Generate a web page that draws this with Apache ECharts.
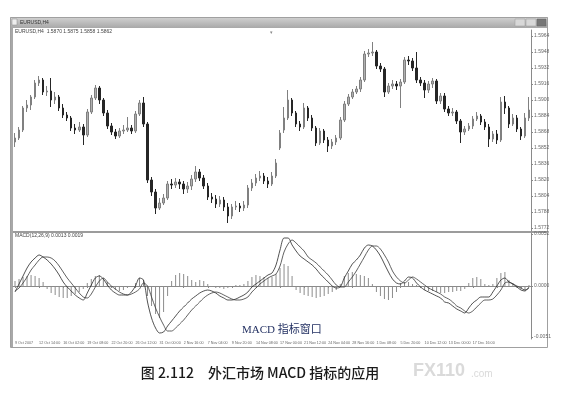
<!DOCTYPE html>
<html><head><meta charset="utf-8">
<script src="https://cdn.jsdelivr.net/npm/echarts@6/dist/echarts.min.js"></script>
<style>html,body{margin:0;padding:0;background:#fff}#c{width:562px;height:405px}</style>
</head><body><div id="c"></div>
<script>
const symbolName = 'EURUSD,H4';
const headerText = 'EURUSD,H4  1.5870 1.5875 1.5858 1.5862';
const macdHeader = 'MACD(12,26,9) 0.0013 0.0019';
const captionText = '图 2.112　外汇市场 MACD 指标的应用';
const paneNote = 'MACD 指标窗口';

const open = [1.5858,1.5862,1.5870,1.5892,1.5895,1.5903,1.5917,1.5920,1.5908,1.5909,
1.5900,1.5903,1.5892,1.5885,1.5882,1.5872,1.5870,1.5873,1.5865,1.5888,
1.5902,1.5912,1.5900,1.5887,1.5874,1.5868,1.5864,1.5869,1.5870,1.5872,
1.5869,1.5886,1.5897,1.5876,1.5820,1.5808,1.5792,1.5797,1.5802,1.5816,
1.5815,1.5818,1.5816,1.5811,1.5814,1.5821,1.5828,1.5822,1.5814,1.5803,
1.5801,1.5796,1.5800,1.5793,1.5784,1.5793,1.5794,1.5792,1.5795,1.5812,
1.5817,1.5822,1.5824,1.5819,1.5816,1.5824,1.5852,1.5870,1.5882,1.5900,
1.5887,1.5876,1.5873,1.5892,1.5882,1.5872,1.5857,1.5869,1.5860,1.5854,
1.5858,1.5862,1.5880,1.5896,1.5903,1.5908,1.5911,1.5920,1.5946,1.5947,
1.5948,1.5934,1.5931,1.5908,1.5914,1.5916,1.5914,1.5918,1.5940,1.5939,
1.5932,1.5920,1.5917,1.5910,1.5916,1.5919,1.5899,1.5904,1.5891,1.5887,
1.5888,1.5879,1.5868,1.5871,1.5874,1.5881,1.5884,1.5878,1.5873,1.5861,
1.5866,1.5860,1.5898,1.5892,1.5876,1.5882,1.5871,1.5864,1.5882];

const close = [1.5862,1.5870,1.5892,1.5895,1.5903,1.5917,1.5920,1.5908,1.5909,1.5900,
1.5903,1.5892,1.5885,1.5882,1.5872,1.5870,1.5873,1.5865,1.5888,1.5902,
1.5912,1.5900,1.5887,1.5874,1.5868,1.5864,1.5869,1.5870,1.5872,1.5869,
1.5886,1.5897,1.5876,1.5820,1.5808,1.5792,1.5797,1.5802,1.5816,1.5815,
1.5818,1.5816,1.5811,1.5814,1.5821,1.5828,1.5822,1.5814,1.5803,1.5801,
1.5796,1.5800,1.5793,1.5784,1.5793,1.5794,1.5792,1.5795,1.5812,1.5817,
1.5822,1.5824,1.5819,1.5816,1.5824,1.5837,1.5867,1.5882,1.5900,1.5887,
1.5876,1.5873,1.5892,1.5882,1.5872,1.5857,1.5869,1.5860,1.5854,1.5858,
1.5862,1.5880,1.5896,1.5903,1.5908,1.5911,1.5920,1.5946,1.5947,1.5948,
1.5934,1.5931,1.5908,1.5914,1.5916,1.5914,1.5918,1.5940,1.5939,1.5932,
1.5920,1.5917,1.5910,1.5916,1.5919,1.5899,1.5904,1.5891,1.5887,1.5888,
1.5879,1.5868,1.5871,1.5874,1.5881,1.5884,1.5878,1.5873,1.5861,1.5866,
1.5860,1.5898,1.5892,1.5876,1.5882,1.5871,1.5864,1.5882,1.5890];

const high = [1.5867,1.5873,1.5894,1.5900,1.5905,1.5920,1.5924,1.5922,1.5914,1.5922,
1.5908,1.5905,1.5896,1.5888,1.5884,1.5876,1.5878,1.5876,1.5891,1.5905,
1.5915,1.5914,1.5902,1.5890,1.5877,1.5871,1.5872,1.5875,1.5883,1.5875,
1.5889,1.5900,1.5903,1.5878,1.5823,1.5811,1.5802,1.5806,1.5819,1.5821,
1.5822,1.5821,1.5819,1.5818,1.5825,1.5834,1.5831,1.5825,1.5817,1.5807,
1.5805,1.5804,1.5803,1.5797,1.5796,1.5799,1.5797,1.5799,1.5815,1.5821,
1.5826,1.5829,1.5827,1.5823,1.5828,1.5841,1.5870,1.5893,1.5910,1.5902,
1.5889,1.5879,1.5897,1.5894,1.5885,1.5874,1.5872,1.5871,1.5863,1.5861,
1.5865,1.5883,1.5899,1.5906,1.5911,1.5914,1.5923,1.5949,1.5951,1.5958,
1.5950,1.5937,1.5933,1.5917,1.5920,1.5919,1.5921,1.5943,1.5944,1.5942,
1.5948,1.5923,1.5920,1.5919,1.5922,1.5921,1.5907,1.5907,1.5894,1.5892,
1.5890,1.5881,1.5874,1.5877,1.5884,1.5888,1.5886,1.5881,1.5876,1.5869,
1.5870,1.5903,1.5904,1.5894,1.5886,1.5885,1.5873,1.5887,1.5903];

const low = [1.5853,1.5860,1.5868,1.5888,1.5890,1.5901,1.5914,1.5905,1.5904,1.5893,
1.5896,1.5889,1.5882,1.5879,1.5869,1.5866,1.5868,1.5855,1.5863,1.5886,
1.5900,1.5896,1.5884,1.5871,1.5865,1.5861,1.5862,1.5866,1.5868,1.5866,
1.5867,1.5884,1.5873,1.5817,1.5804,1.5786,1.5790,1.5795,1.5800,1.5811,
1.5812,1.5811,1.5806,1.5807,1.5810,1.5818,1.5819,1.5811,1.5800,1.5797,
1.5792,1.5793,1.5789,1.5777,1.5781,1.5790,1.5788,1.5789,1.5792,1.5809,
1.5814,1.5819,1.5816,1.5812,1.5814,1.5822,1.5850,1.5867,1.5880,1.5884,
1.5873,1.5869,1.5871,1.5879,1.5869,1.5854,1.5855,1.5857,1.5848,1.5851,
1.5855,1.5860,1.5878,1.5894,1.5901,1.5906,1.5908,1.5918,1.5943,1.5944,
1.5931,1.5928,1.5903,1.5906,1.5911,1.5910,1.5892,1.5916,1.5935,1.5929,
1.5917,1.5914,1.5902,1.5907,1.5912,1.5896,1.5896,1.5888,1.5884,1.5884,
1.5876,1.5857,1.5865,1.5869,1.5871,1.5879,1.5875,1.5870,1.5853,1.5858,
1.5856,1.5858,1.5886,1.5872,1.5874,1.5868,1.5860,1.5862,1.5879];

const macdHist = [0.0005,0.0007,0.0009,0.0010,0.0011,0.0010,0.0008,0.0004,-0.0003,-0.0007,
-0.0009,-0.0011,-0.0012,-0.0012,-0.0010,-0.0008,-0.0006,-0.0003,0.0003,0.0007,
0.0010,0.0011,0.0008,0.0004,-0.0002,-0.0004,-0.0005,-0.0004,-0.0002,-0.0001,
0.0003,0.0008,0.0006,-0.0010,-0.0020,-0.0028,-0.0032,-0.0026,-0.0010,0.0005,
0.0011,0.0013,0.0012,0.0010,0.0006,0.0004,0.0006,0.0005,0.0002,-0.0001,
-0.0002,-0.0002,-0.0003,-0.0002,-0.0001,0.0001,0.0001,0.0002,0.0005,0.0009,
0.0011,0.0010,0.0009,0.0008,0.0009,0.0012,0.0018,0.0022,0.0020,0.0010,
-0.0004,-0.0007,-0.0009,-0.0010,-0.0011,-0.0012,-0.0011,-0.0010,-0.0008,-0.0006,
-0.0004,0.0002,0.0010,0.0013,0.0014,0.0012,0.0011,0.0010,0.0008,0.0002,
-0.0006,-0.0010,-0.0013,-0.0014,-0.0012,-0.0006,0.0003,0.0004,0.0004,0.0002,
0.0001,-0.0002,-0.0004,-0.0005,-0.0005,-0.0006,-0.0007,-0.0007,-0.0006,-0.0006,
-0.0005,-0.0005,-0.0003,0.0003,0.0008,0.0009,0.0007,0.0002,0.0001,0.0002,
0.0008,0.0013,0.0014,0.0006,0.0003,-0.0002,-0.0003,-0.0004,0.0001];

const macdLine = [-0.0006,0.0002,0.0010,0.0018,0.0024,0.0028,0.0031,0.0029,0.0026,0.0022,
0.0017,0.0011,0.0004,-0.0001,-0.0005,-0.0009,-0.0012,-0.0014,-0.0007,0.0001,
0.0008,0.0010,0.0007,0.0001,-0.0004,-0.0007,-0.0009,-0.0009,-0.0009,-0.0006,
0.0000,0.0008,0.0006,-0.0016,-0.0032,-0.0042,-0.0047,-0.0046,-0.0040,-0.0035,
-0.0030,-0.0025,-0.0021,-0.0017,-0.0013,-0.0010,-0.0007,-0.0005,-0.0004,-0.0005,
-0.0007,-0.0010,-0.0012,-0.0014,-0.0014,-0.0013,-0.0011,-0.0009,-0.0006,-0.0001,
0.0002,0.0005,0.0008,0.0011,0.0013,0.0021,0.0036,0.0048,0.0048,0.0041,
0.0035,0.0030,0.0027,0.0024,0.0021,0.0017,0.0012,0.0008,0.0004,0.0000,
-0.0002,-0.0001,0.0008,0.0015,0.0022,0.0026,0.0031,0.0038,0.0041,0.0040,
0.0036,0.0030,0.0022,0.0014,0.0007,0.0003,0.0002,0.0005,0.0009,0.0008,
0.0003,-0.0001,-0.0004,-0.0006,-0.0008,-0.0010,-0.0012,-0.0016,-0.0017,-0.0020,
-0.0023,-0.0025,-0.0027,-0.0022,-0.0017,-0.0014,-0.0011,-0.0011,-0.0011,-0.0006,
0.0000,0.0006,0.0008,0.0004,0.0002,-0.0001,-0.0004,-0.0005,-0.0001];

const signalLine = [-0.0005,-0.0002,0.0003,0.0009,0.0016,0.0021,0.0026,0.0029,0.0029,0.0028,
0.0025,0.0020,0.0014,0.0008,0.0003,-0.0002,-0.0007,-0.0011,-0.0012,-0.0008,
-0.0001,0.0005,0.0008,0.0004,0.0000,-0.0003,-0.0006,-0.0008,-0.0009,-0.0008,
-0.0006,-0.0003,0.0003,0.0000,-0.0011,-0.0022,-0.0031,-0.0039,-0.0045,-0.0045,
-0.0042,-0.0038,-0.0034,-0.0029,-0.0024,-0.0020,-0.0016,-0.0012,-0.0009,-0.0007,
-0.0006,-0.0007,-0.0009,-0.0011,-0.0013,-0.0014,-0.0014,-0.0013,-0.0011,-0.0006,
-0.0002,0.0002,0.0005,0.0008,0.0010,0.0012,0.0020,0.0034,0.0042,0.0046,
0.0043,0.0039,0.0035,0.0029,0.0026,0.0023,0.0019,0.0015,0.0011,0.0006,
0.0001,-0.0001,-0.0001,0.0004,0.0009,0.0015,0.0022,0.0029,0.0036,0.0040,
0.0040,0.0037,0.0031,0.0024,0.0015,0.0009,0.0005,0.0003,0.0006,0.0009,
0.0007,0.0004,0.0001,-0.0002,-0.0004,-0.0006,-0.0008,-0.0011,-0.0013,-0.0016,
-0.0020,-0.0022,-0.0025,-0.0027,-0.0025,-0.0021,-0.0017,-0.0014,-0.0014,-0.0013,
-0.0009,-0.0004,0.0003,0.0004,0.0002,0.0000,-0.0002,-0.0004,-0.0002];

const priceTicks = [1.5964,1.5948,1.5932,1.5916,1.5900,1.5884,1.5868,1.5852,1.5836,1.5820,1.5804,1.5788,1.5772];
const macdTicks = [0.0052, 0, -0.0051];
const timeLabels = ['9 Oct 2007','12 Oct 14:00','16 Oct 02:00','19 Oct 08:00','22 Oct 20:00',
'26 Oct 12:00','31 Oct 00:00','2 Nov 16:00','7 Nov 04:00','9 Nov 20:00',
'14 Nov 08:00','17 Nov 00:00','21 Nov 12:00','24 Nov 04:00','28 Nov 16:00',
'1 Dec 08:00','5 Dec 20:00','10 Dec 12:00','13 Dec 00:00','17 Dec 16:00'];

const chart = echarts.init(document.getElementById('c'), null, {renderer: 'canvas'});
const idx = open.map((_, i) => i);
const ohlc = open.map((o, i) => [o, close[i], low[i], high[i]]);
const tiny = {fontSize: 5, color: '#666', fontFamily: 'Liberation Sans'};

const option = {
  animation: false,
  backgroundColor: '#fff',
  grid: [
    {left: 13, right: 31, top: 30, height: 201},
    {left: 13, right: 31, top: 233, height: 106}
  ],
  xAxis: [
    {type: 'category', gridIndex: 0, data: idx, axisLine: {show: false}, axisTick: {show: false}, axisLabel: {show: false}, splitLine: {show: false}},
    {type: 'category', gridIndex: 1, data: idx,
      axisLine: {show: true, lineStyle: {color: '#8a8a8a', width: 1}},
      axisTick: {show: true, interval: 5, alignWithLabel: true, length: 2, lineStyle: {color: '#888'}},
      axisLabel: {interval: 5, align: 'left', margin: 2, fontSize: 3.7, color: '#666', fontFamily: 'Liberation Sans',
        showMinLabel: true, hideOverlap: false,
        formatter: (v, i) => timeLabels[Math.round(i / 6)] || ''},
      splitLine: {show: false}}
  ],
  yAxis: [
    {type: 'value', gridIndex: 0, position: 'right', min: 1.5769, max: 1.5970,
      splitLine: {show: false},
      axisLine: {show: true, lineStyle: {color: '#8a8a8a'}},
      axisTick: {show: true, length: 2, customValues: priceTicks, lineStyle: {color: '#888'}},
      axisLabel: Object.assign({customValues: priceTicks, margin: 3, formatter: v => v.toFixed(4)}, tiny)},
    {type: 'value', gridIndex: 1, position: 'right', min: -0.0053, max: 0.0053,
      splitLine: {show: false},
      axisLine: {show: true, lineStyle: {color: '#8a8a8a'}},
      axisTick: {show: true, length: 2, customValues: macdTicks, lineStyle: {color: '#888'}},
      axisLabel: Object.assign({customValues: macdTicks, margin: 3, formatter: v => v.toFixed(4)}, tiny)}
  ],
  series: [
    {type: 'candlestick', xAxisIndex: 0, yAxisIndex: 0, data: ohlc, barWidth: 2, clip: false,
      itemStyle: {color: '#b0b0b0', color0: '#262626', borderColor: '#808080', borderColor0: '#262626', borderWidth: 1}},
    {type: 'bar', xAxisIndex: 1, yAxisIndex: 1, data: macdHist, barWidth: 1,
      itemStyle: {color: '#8c8c8c'}},
    {type: 'line', xAxisIndex: 1, yAxisIndex: 1, data: macdLine, symbol: 'none', smooth: 0.3,
      lineStyle: {color: '#262626', width: 0.8}},
    {type: 'line', xAxisIndex: 1, yAxisIndex: 1, data: signalLine, symbol: 'none', smooth: 0.3,
      lineStyle: {color: '#3a3a3a', width: 0.8}}
  ],
  graphic: [
    {type: 'rect', shape: {x: 10, y: 17, width: 538, height: 11}, silent: true,
      style: {fill: new echarts.graphic.LinearGradient(0, 0, 0, 1, [{offset: 0, color: '#d2d2d2'}, {offset: 1, color: '#a8a8a8'}])}},
    {type: 'rect', shape: {x: 12, y: 19, width: 5, height: 6}, style: {fill: '#eee', stroke: '#888', lineWidth: 0.5}},
    {type: 'text', x: 20, y: 22.5, style: {text: symbolName, fontSize: 5, fill: '#333', fontFamily: 'Liberation Sans', textVerticalAlign: 'middle'}},
    {type: 'rect', shape: {x: 515, y: 19, width: 10, height: 7}, style: {fill: '#d8d8d8', stroke: '#999', lineWidth: 0.5}},
    {type: 'rect', shape: {x: 526, y: 19, width: 10, height: 7}, style: {fill: '#d8d8d8', stroke: '#999', lineWidth: 0.5}},
    {type: 'rect', shape: {x: 537, y: 19, width: 9, height: 7}, style: {fill: '#777', stroke: '#666', lineWidth: 0.5}},
    {type: 'rect', shape: {x: 10.5, y: 17.5, width: 537, height: 330}, style: {fill: null, stroke: '#a0a0a0', lineWidth: 1}},
    {type: 'rect', shape: {x: 11, y: 28, width: 2, height: 319}, style: {fill: '#a8a8a8'}},
    {type: 'rect', shape: {x: 13, y: 231, width: 534, height: 2}, style: {fill: '#9c9c9c'}},
    {type: 'text', x: 15, y: 31.5, style: {text: headerText, fontSize: 5, fill: '#444', fontFamily: 'Liberation Sans', textVerticalAlign: 'middle'}},
    {type: 'text', x: 15, y: 235.5, style: {text: macdHeader, fontSize: 5, fill: '#444', fontFamily: 'Liberation Sans', textVerticalAlign: 'middle'}},
    {type: 'text', x: 270, y: 30, style: {text: '▾', fontSize: 5, fill: '#888'}},
    {type: 'text', x: 242, y: 330, style: {text: paneNote, font: '11px "Liberation Serif", "Noto Sans CJK SC"', fill: '#1d2b5e', textVerticalAlign: 'middle'}},
    {type: 'text', x: 260, y: 373, style: {text: captionText, font: '500 14px "Noto Sans CJK SC", "Liberation Sans"', fill: '#1a1a1a', textAlign: 'center', textVerticalAlign: 'middle'}},
    {type: 'text', x: 413, y: 371, style: {text: 'FX110', font: 'bold 18px "Liberation Sans"', fill: '#dadada', textVerticalAlign: 'middle'}},
    {type: 'text', x: 471, y: 374, style: {text: '.com', font: '10px "Liberation Sans"', fill: '#dadada', textVerticalAlign: 'middle'}}
  ]
};
chart.setOption(option);
</script>
</body></html>
